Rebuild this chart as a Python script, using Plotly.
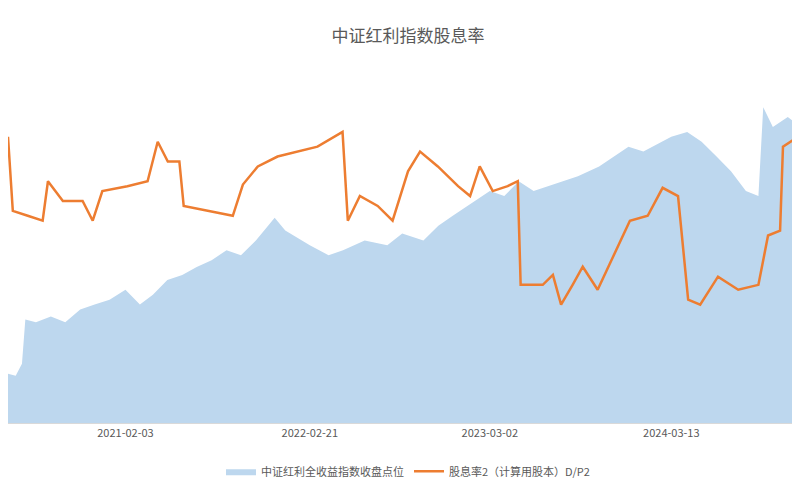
import plotly.graph_objects as go

area_dates = ["2020-06-04","2020-06-20","2020-07-03","2020-07-10","2020-08-01","2020-09-01","2020-10-01","2020-11-01","2020-12-01","2021-01-01","2021-02-03","2021-03-05","2021-04-01","2021-05-01","2021-06-01","2021-07-01","2021-08-01","2021-09-01","2021-10-01","2021-11-01","2021-12-10","2022-01-01","2022-02-21","2022-04-01","2022-05-01","2022-06-15","2022-08-01","2022-09-01","2022-10-15","2022-11-15","2022-12-15","2023-01-15","2023-03-02","2023-04-01","2023-05-01","2023-06-01","2023-07-01","2023-08-01","2023-09-01","2023-10-15","2023-11-15","2023-12-15","2024-01-15","2024-03-13","2024-04-15","2024-05-15","2024-06-15","2024-07-15","2024-08-15","2024-09-10","2024-09-20","2024-10-10","2024-11-10","2024-12-22"]
area_vals = [4000,3960,4200,5100,5040,5160,5040,5300,5400,5500,5700,5400,5600,5900,6000,6160,6300,6500,6400,6700,7160,6900,6600,6400,6500,6700,6600,6840,6700,7000,7200,7400,7700,7600,7900,7700,7800,7900,8000,8200,8400,8600,8500,8800,8900,8700,8400,8100,7700,7600,9400,9000,9200,8900]

yld_dates = ["2020-06-04","2020-06-14","2020-07-15","2020-08-15","2020-08-26","2020-09-26","2020-11-06","2020-11-27","2020-12-17","2021-02-07","2021-03-21","2021-04-11","2021-05-02","2021-05-26","2021-06-04","2021-07-24","2021-09-14","2021-10-05","2021-11-05","2021-12-16","2022-01-27","2022-03-09","2022-04-30","2022-05-11","2022-06-05","2022-07-12","2022-08-12","2022-09-13","2022-10-08","2022-11-14","2022-12-26","2023-01-20","2023-02-09","2023-03-08","2023-04-08","2023-04-29","2023-05-05","2023-06-20","2023-07-11","2023-07-28","2023-08-21","2023-09-11","2023-10-12","2023-11-23","2023-12-18","2024-01-24","2024-02-24","2024-03-27","2024-04-17","2024-05-12","2024-06-18","2024-07-30","2024-09-10","2024-09-30","2024-10-25","2024-10-31","2024-12-01","2024-12-22"]
yld_vals = [7.48,6.58,6.52,6.46,6.94,6.70,6.70,6.46,6.82,6.88,6.94,7.42,7.18,7.18,6.64,6.58,6.52,6.90,7.12,7.24,7.30,7.36,7.54,6.46,6.76,6.64,6.46,7.06,7.30,7.12,6.88,6.76,7.12,6.82,6.88,6.94,5.68,5.68,5.80,5.44,5.68,5.90,5.62,6.16,6.46,6.52,6.86,6.76,5.50,5.44,5.78,5.62,5.68,6.28,6.34,7.36,7.48,7.54]

tick_vals = ["2021-02-03","2022-02-21","2023-03-02","2024-03-13"]

fig = go.Figure()
fig.add_trace(go.Scatter(x=area_dates, y=area_vals, fill="tozeroy", mode="lines",
                         line=dict(width=0, color="#bdd7ee"), fillcolor="#bdd7ee",
                         name="中证红利全收益指数收盘点位"))
fig.add_trace(go.Scatter(x=yld_dates, y=yld_vals, mode="lines", yaxis="y2",
                         line=dict(width=2.5, color="#ed7d31"),
                         name="股息率2（计算用股本）D/P2"))
fig.update_layout(
    width=800, height=500, paper_bgcolor="white", plot_bgcolor="white",
    margin=dict(l=0, r=0, t=40, b=85),
    title=dict(text="中证红利指数股息率", x=0.5, y=0.955, xanchor="center",
               font=dict(size=17, color="#595959", family="Noto Sans CJK SC")),
    font=dict(family="Noto Sans CJK SC", color="#595959", size=11),
    xaxis=dict(range=["2020-06-04","2024-12-22"], tickvals=tick_vals, ticktext=tick_vals,
               showgrid=False, showline=True, linecolor="#d9d9d9", ticks=""),
    yaxis=dict(range=[3000,10600], visible=False),
    yaxis2=dict(range=[4.0,8.56], overlaying="y", visible=False),
    legend=dict(orientation="h", x=0.5, xanchor="center", y=-0.09, yanchor="top",
                font=dict(size=11, color="#595959")),
    showlegend=True,
)
fig.write_html("out.html")
